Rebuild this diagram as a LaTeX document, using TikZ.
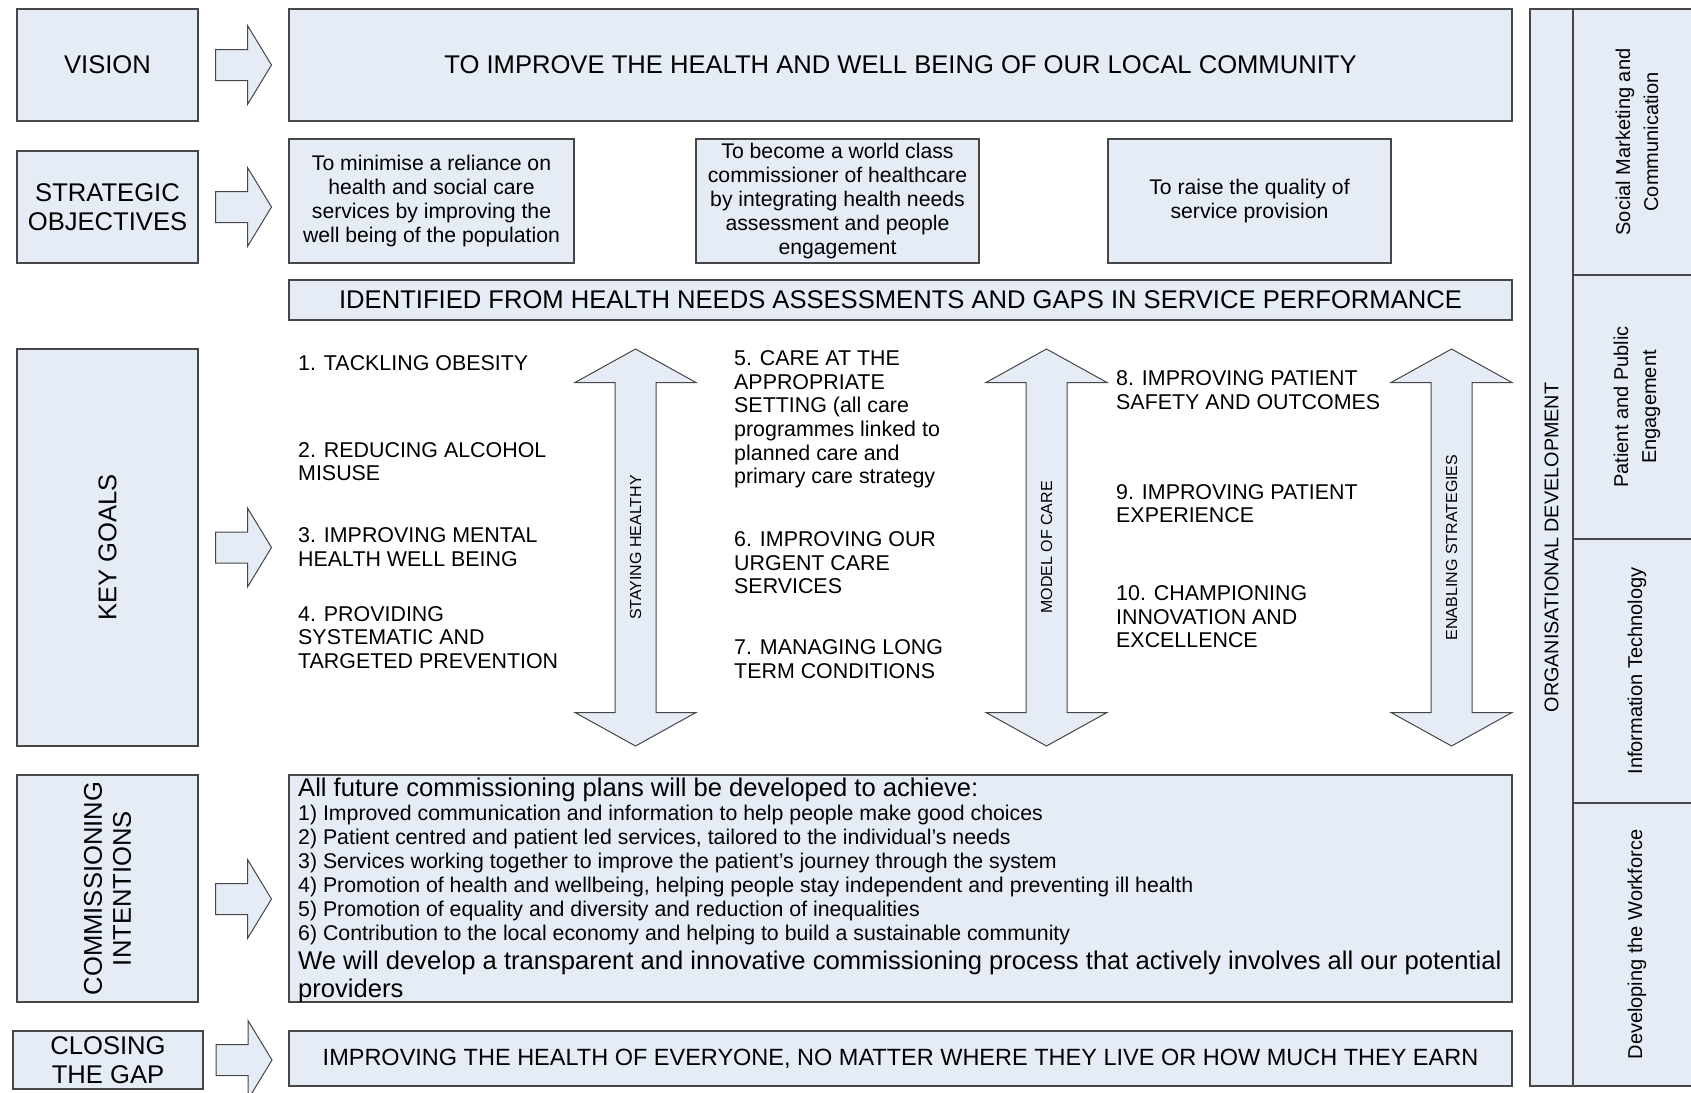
\documentclass[tikz,border=0pt]{standalone}
\usepackage{fontspec}
\setmainfont{Liberation Sans}
\usetikzlibrary{calc}
\definecolor{boxfill}{RGB}{230,236,246}
\definecolor{edgegray}{RGB}{70,70,70}
\newcommand{\fsize}[2]{\fontsize{#1}{#2}\selectfont}

\begin{document}
\begin{tikzpicture}[x=1pt, y=-1pt,
    box/.style={draw=edgegray, fill=boxfill, line width=1.3pt, inner sep=0pt, align=center, font=\fsize{25.6}{29}},
    goal/.style={anchor=north west, inner sep=0pt, align=left, font=\fsize{21.4}{23.7}},
    vlabel/.style={rotate=90, inner sep=0pt, font=\fsize{16}{18}},
    barrow/.style={draw=edgegray, fill=boxfill, line width=1pt, line join=miter},
    rarrow/.pic={\draw[barrow] (-28,-15.5) -- (4,-15.5) -- (4,-39.5) -- (28,0) -- (4,39.5) -- (4,15.5) -- (-28,15.5) -- cycle;},
    vdarrow/.pic={\draw[barrow] (-20.5,-165) -- (-60.5,-165) -- (0,-198.5) -- (60.5,-165) -- (20.5,-165) -- (20.5,165) -- (60.5,165) -- (0,198.5) -- (-60.5,165) -- (-20.5,165) -- cycle;}]
    \useasboundingbox (0,0) rectangle (1691,1092);
    \clip (0,0) rectangle (1691,1092);

    % left column
    \node[box, minimum width=181, minimum height=112] (vision) at (107.5,65) {VISION};
    \node[box, minimum width=181, minimum height=112] (strat) at (107.5,207) {STRATEGIC\\OBJECTIVES};
    \node[box, rotate=90, minimum width=397, minimum height=181] (goals) at (107.5,547.5) {KEY GOALS};
    \node[box, rotate=90, minimum width=227, minimum height=181] (commis) at (107.5,888.5) {COMMISSIONING\\INTENTIONS};
    \node[box, minimum width=190, minimum height=58] (closing) at (108,1060) {CLOSING\\THE GAP};
    \foreach \n/\dy in {vision/0, strat/0, goals/0, commis/10.5, closing/0}
        \pic at ($(\n.center)+(136,\dy)$) {rarrow};

    % vision and objectives
    \node[box, minimum width=1223, minimum height=112] (visiontext) at (900.5,65) {TO IMPROVE THE HEALTH AND WELL BEING OF OUR LOCAL COMMUNITY};
    \node[box, font=\fsize{21.2}{24}, minimum width=285, minimum height=124] (obj1) at (431.5,201) {To minimise a reliance on\\health and social care\\services by improving the\\well being of the population};
    \node[box, font=\fsize{21.2}{24}, minimum width=283, minimum height=124] (obj2) at (837.5,201) {To become a world class\\commissioner of healthcare\\by integrating health needs\\assessment and people\\engagement};
    \node[box, font=\fsize{21.2}{24}, minimum width=283, minimum height=124] (obj3) at (1249.5,201) {To raise the quality of\\service provision};
    \node[box, minimum width=1223, minimum height=40] (ident) at (900.5,300) {IDENTIFIED FROM HEALTH NEEDS ASSESSMENTS AND GAPS IN SERVICE PERFORMANCE};

    % key goals
    \node[goal] (g1) at (298,355.7) {1. TACKLING OBESITY};
    \node[goal] (g2) at (298,442) {2. REDUCING ALCOHOL\\MISUSE};
    \node[goal] (g3) at (298,527.2) {3. IMPROVING MENTAL\\HEALTH WELL BEING};
    \node[goal] (g4) at (298,605.9) {4. PROVIDING\\SYSTEMATIC AND\\TARGETED PREVENTION};
    \node[goal] (g5) at (734,350.3) {5. CARE AT THE\\APPROPRIATE\\SETTING (all care\\programmes linked to\\planned care and\\primary care strategy};
    \node[goal] (g6) at (734,531.3) {6. IMPROVING OUR\\URGENT CARE\\SERVICES};
    \node[goal] (g7) at (734,639.3) {7. MANAGING LONG\\TERM CONDITIONS};
    \node[goal] (g8) at (1116,370.8) {8. IMPROVING PATIENT\\SAFETY AND OUTCOMES};
    \node[goal] (g9) at (1116,484) {9. IMPROVING PATIENT\\EXPERIENCE};
    \node[goal] (g10) at (1116,585.3) {10. CHAMPIONING\\INNOVATION AND\\EXCELLENCE};
    \foreach \x/\lab/\nm in {635.5/STAYING HEALTHY/stay, 1046.5/MODEL OF CARE/model, 1451.5/ENABLING STRATEGIES/enab} {
        \pic at (\x,547.5) {vdarrow};
        \node[vlabel] (\nm) at (\x,547.5) {\lab};
    }

    % commissioning intentions
    \node[box, minimum width=1223, minimum height=227] (commistext) at (900.5,888.5) {};
    \node[anchor=north west, inner sep=0pt, font=\fsize{25.6}{28}] (intro) at (298,777.8) {All future commissioning plans will be developed to achieve:};
    \node[anchor=north west, inner sep=0pt, align=left, font=\fsize{21.3}{24}] (plans) at (298,805.3) {1) Improved communication and information to help people make good choices\\2) Patient centred and patient led services, tailored to the individual’s needs\\3) Services working together to improve the patient’s journey through the system\\4) Promotion of health and wellbeing, helping people stay independent and preventing ill health\\5) Promotion of equality and diversity and reduction of inequalities\\6) Contribution to the local economy and helping to build a sustainable community};
    \node[anchor=north west, inner sep=0pt, align=left, font=\fsize{25.6}{28}] (develop) at (298,950.8) {We will develop a transparent and innovative commissioning process that actively involves all our potential\\providers};

    % closing the gap
    \node[box, font=\fsize{23.5}{26}, minimum width=1223, minimum height=55] (closingtext) at (900.5,1058.5) {IMPROVING THE HEALTH OF EVERYONE, NO MATTER WHERE THEY LIVE OR HOW MUCH THEY EARN};

    % organisational development
    \node[box, rotate=90, font=\fsize{19.8}{22}, minimum width=1077, minimum height=43] (orgdev) at (1551.5,547.5) {ORGANISATIONAL DEVELOPMENT};
    \foreach \y/\h/\lab/\nm in {142/266/{Social Marketing and\\Communication}/social, 407/264/{Patient and Public\\Engagement}/patient, 671/264/{Information Technology}/infotech, 944.5/283/{Developing the Workforce}/workforce}
        \node[box, rotate=90, font=\fsize{20}{28}, minimum width=\h, minimum height=128] (\nm) at (1637,\y) {\lab};
\end{tikzpicture}
\end{document}
